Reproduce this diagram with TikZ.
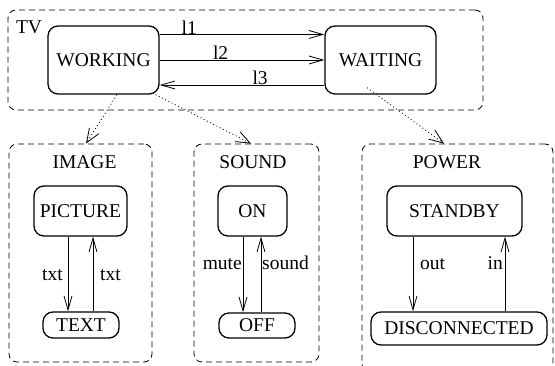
\documentclass[tikz,border=0pt]{standalone}
\usepackage{fontspec}
\setmainfont{Liberation Serif}
\usetikzlibrary{arrows.meta}
\begin{document}
\begin{tikzpicture}[x=1pt,y=1pt,
  every node/.style={font=\fontsize{19.5}{22}\selectfont},
  container/.style={draw, dashed, dash pattern=on 6pt off 4pt, line width=0.8pt, rounded corners=8pt, inner sep=0pt},
  statebox/.style={draw, line width=1.3pt, rounded corners=10pt, inner sep=0pt},
  arr/.style={line width=0.8pt, -{Straight Barb[length=14pt,width=8pt,line width=0.8pt]}},
  darr/.style={line width=0.8pt, dash pattern=on 1pt off 2.6pt, -{Straight Barb[length=14pt,width=11pt,line width=0.8pt]}},
  lbl/.style={inner sep=0pt}
]
\useasboundingbox (0,0) rectangle (555,366);
\begin{scope}
\clip (0,0) rectangle (555,366);
% containers
\node[container, minimum width=475, minimum height=100] (tv) at (245.5,306) {};
\node[container, minimum width=143, minimum height=218] (image) at (80.5,113) {};
\node[container, minimum width=125, minimum height=218] (sound) at (256.5,113) {};
\node[container, minimum width=191, minimum height=228] (power) at (457.5,108) {};
\end{scope}
% container labels
\node[lbl] (tvl) at (29,338.5) {TV};
\node[lbl] (imagel) at (84.5,203.5) {IMAGE};
\node[lbl] (soundl) at (253,203.5) {SOUND};
\node[lbl] (powerl) at (447,203.5) {POWER};
% states
\node[statebox, minimum width=111, minimum height=68] (working) at (103.5,306) {WORKING};
\node[statebox, minimum width=111, minimum height=68] (waiting) at (380.5,306) {WAITING};
\node[statebox, minimum width=93, minimum height=50] (picture) at (80.5,155) {PICTURE};
\node[statebox, minimum width=76, minimum height=26] (text) at (81,41) {TEXT};
\node[statebox, minimum width=69, minimum height=50] (on) at (252.5,155) {ON};
\node[statebox, minimum width=76, minimum height=25] (off) at (257,40.5) {OFF};
\node[statebox, minimum width=135, minimum height=50] (standby) at (454.5,155) {STANDBY};
\node[statebox, minimum width=176, minimum height=33] (disc) at (459,37.5) {DISCONNECTED};
% TV transitions
\draw[arr] ([yshift=25.5]working.east) -- node[lbl, above, pos=0.18] (l1) {l1} ([yshift=25.5]waiting.west);
\draw[arr] (working.east) -- node[lbl, above, pos=0.37] (l2) {l2} (waiting.west);
\draw[arr] ([yshift=-25]waiting.west) -- node[lbl, above, pos=0.39] (l3) {l3} ([yshift=-25]working.east);
% refinements
\draw[darr] ([xshift=13.5]working.south) -- ([xshift=5.5]image.north);
\draw[darr] ([xshift=-4]working.south east) -- ([xshift=-5.5]sound.north);
\draw[darr] ([xshift=-13.5,yshift=7]waiting.south) -- ([xshift=-13.5]power.north);
% IMAGE
\draw[arr] ([xshift=-12.5]picture.south) -- ([xshift=-13]text.north);
\draw[arr] ([xshift=12]text.north) -- ([xshift=12.5]picture.south);
\node[lbl, anchor=base east] (txt1) at (63,85.3) {txt};
\node[lbl, anchor=base west] (txt2) at (100,85.3) {txt};
% SOUND
\draw[arr] ([xshift=-9.5]on.south) -- ([xshift=-14]off.north);
\draw[arr] ([xshift=4]off.north) -- ([xshift=8.5]on.south);
\node[lbl, anchor=base east] (mute) at (242,96) {mute};
\node[lbl, anchor=base west] (soundlab) at (262,96) {sound};
% POWER
\draw[arr] ([xshift=-41.5]standby.south) -- ([xshift=-46]disc.north);
\draw[arr] ([xshift=46]disc.north) -- ([xshift=50.5]standby.south);
\node[lbl, anchor=base west] (out) at (420,96) {out};
\node[lbl, anchor=base east] (in) at (503,96) {in};
\end{tikzpicture}
\end{document}
